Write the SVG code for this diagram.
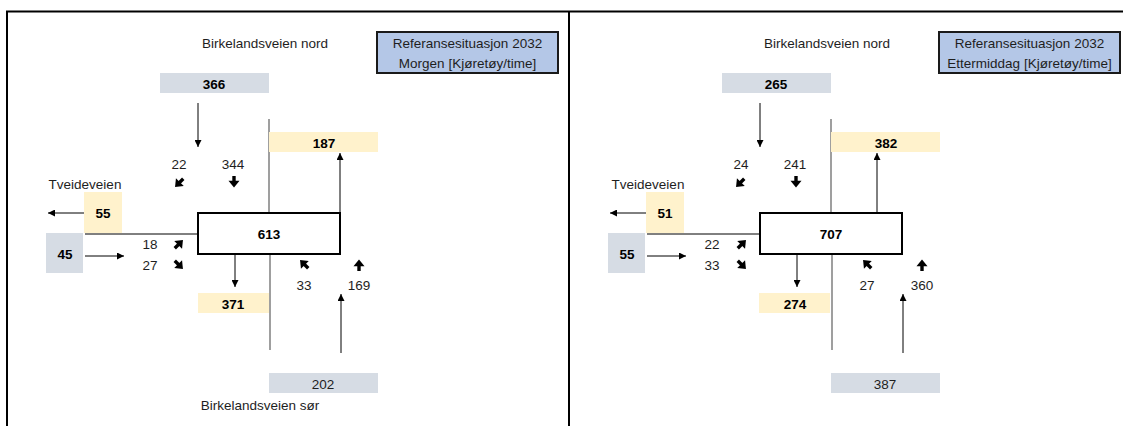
<svg xmlns="http://www.w3.org/2000/svg" width="1123" height="426" viewBox="0 0 1123 426">
<defs>
<style>
text{font-family:"Liberation Sans",Arial,sans-serif;font-size:13.5px;fill:#1e1e1e;text-anchor:middle;dominant-baseline:central}
.b{font-weight:bold;fill:#000}
.gray{fill:#d6dce4}
.yel{fill:#fff2cc}
.title{fill:#b4c7e7;stroke:#1a1a1a;stroke-width:2}
.jbox{fill:#fff;stroke:#000;stroke-width:2}
.road{stroke:#808080;stroke-width:1.5;fill:none}
.con{stroke:#000;stroke-width:1;fill:none;marker-end:url(#ah)}
.link{stroke:#000;stroke-width:1;fill:none}
.frame{stroke:#000;stroke-width:2;fill:none}
</style>
<marker id="ah" viewBox="0 0 10 10" refX="10" refY="5" markerWidth="7" markerHeight="7" markerUnits="userSpaceOnUse" orient="auto">
<path d="M0,0 L10,5 L0,10Z" fill="#000"/>
</marker>
<g id="bd">
<path d="M0,-6 V0" stroke="#000" stroke-width="3.4"/>
<path d="M-5.5,-1.2 L5.5,-1.2 L0,5.6Z" fill="#000"/>
</g>
</defs>
<rect width="1123" height="426" fill="#fff"/>
<g id="frame">
<path class="frame" d="M7,426 V11.5 H1123 M569,11.5 V426"/>
</g>

<!-- Left panel: Morgen -->
<g id="morgen">
<g id="m-connectors">
<path class="road" d="M269,119 V213 M270,254 V350"/>
<path class="link" d="M85,234 H198"/>
<path class="con" d="M198,103 V147"/>
<path class="con" d="M340,213 V153"/>
<path class="con" d="M84,213 H48"/>
<path class="con" d="M85,256 H124"/>
<path class="con" d="M235,254 V287"/>
<path class="con" d="M341,353 V294"/>
</g>
<g id="m-title"><rect class="title" x="377" y="32" width="181" height="41"/><text x="467.5" y="43">Referansesituasjon 2032</text><text x="467.5" y="63">Morgen [Kjøretøy/time]</text></g>
<g id="m-label-nord"><text x="265" y="43">Birkelandsveien nord</text></g>
<g id="m-label-sor"><text x="260" y="405">Birkelandsveien sør</text></g>
<g id="m-label-tveide"><text x="85" y="184">Tveideveien</text></g>
<g id="m-nord-in"><rect class="gray" x="160" y="73" width="109" height="20"/><text class="b" x="214" y="84">366</text></g>
<g id="m-nord-out"><rect class="yel" x="269" y="132" width="109" height="20"/><text class="b" x="324" y="143">187</text></g>
<g id="m-tveide-out"><rect class="yel" x="84" y="192" width="38" height="41"/><text class="b" x="103" y="213">55</text></g>
<g id="m-tveide-in"><rect class="gray" x="46" y="233" width="37" height="40"/><text class="b" x="65" y="254">45</text></g>
<g id="m-junction"><rect class="jbox" x="198" y="213" width="142" height="41"/><text class="b" x="269" y="234">613</text></g>
<g id="m-sor-out"><rect class="yel" x="198" y="293" width="71" height="20"/><text class="b" x="233" y="304">371</text></g>
<g id="m-sor-in"><rect class="gray" x="269" y="373" width="109" height="20"/><text x="323" y="384">202</text></g>
<g id="m-turns">
<text x="179" y="164">22</text><use href="#bd" transform="translate(179,183) rotate(45)"/>
<text x="233" y="164">344</text><use href="#bd" transform="translate(234,182)"/>
<text x="150" y="244">18</text><use href="#bd" transform="translate(179,244) rotate(-135)"/>
<text x="150" y="265">27</text><use href="#bd" transform="translate(179,265) rotate(-45)"/>
<text x="304" y="285">33</text><use href="#bd" transform="translate(304,264) rotate(135)"/>
<text x="359" y="285">169</text><use href="#bd" transform="translate(359,265) rotate(180)"/>
</g>
</g>

<!-- Right panel: Ettermiddag -->
<g id="ettermiddag" transform="translate(562,0)">
<g id="e-connectors">
<path class="road" d="M269,119 V213 M270,254 V350"/>
<path class="link" d="M85,234 H198"/>
<path class="con" d="M198,103 V147"/>
<path class="con" d="M315,213 V153"/>
<path class="con" d="M84,213 H48"/>
<path class="con" d="M85,256 H124"/>
<path class="con" d="M235,254 V287"/>
<path class="con" d="M341,353 V294"/>
</g>
<g id="e-title"><rect class="title" x="377" y="32" width="181" height="41"/><text x="467.5" y="43">Referansesituasjon 2032</text><text x="467.5" y="63">Ettermiddag [Kjøretøy/time]</text></g>
<g id="e-label-nord"><text x="265" y="43">Birkelandsveien nord</text></g>
<g id="e-label-tveide"><text x="86" y="184">Tveideveien</text></g>
<g id="e-nord-in"><rect class="gray" x="160" y="73" width="109" height="20"/><text class="b" x="214" y="84">265</text></g>
<g id="e-nord-out"><rect class="yel" x="269" y="132" width="109" height="20"/><text class="b" x="324" y="143">382</text></g>
<g id="e-tveide-out"><rect class="yel" x="84" y="192" width="38" height="41"/><text class="b" x="103" y="213">51</text></g>
<g id="e-tveide-in"><rect class="gray" x="46" y="233" width="37" height="40"/><text class="b" x="65" y="254">55</text></g>
<g id="e-junction"><rect class="jbox" x="198" y="213" width="142" height="41"/><text class="b" x="269" y="234">707</text></g>
<g id="e-sor-out"><rect class="yel" x="197" y="293" width="71" height="20"/><text class="b" x="233" y="304">274</text></g>
<g id="e-sor-in"><rect class="gray" x="269" y="373" width="109" height="20"/><text x="323" y="384">387</text></g>
<g id="e-turns">
<text x="179" y="164">24</text><use href="#bd" transform="translate(178,183) rotate(45)"/>
<text x="233" y="164">241</text><use href="#bd" transform="translate(234,182)"/>
<text x="150" y="244">22</text><use href="#bd" transform="translate(180,244) rotate(-135)"/>
<text x="150" y="265">33</text><use href="#bd" transform="translate(180,265) rotate(-45)"/>
<text x="305" y="285">27</text><use href="#bd" transform="translate(305,264) rotate(135)"/>
<text x="360" y="285">360</text><use href="#bd" transform="translate(360,265) rotate(180)"/>
</g>
</g>
</svg>
